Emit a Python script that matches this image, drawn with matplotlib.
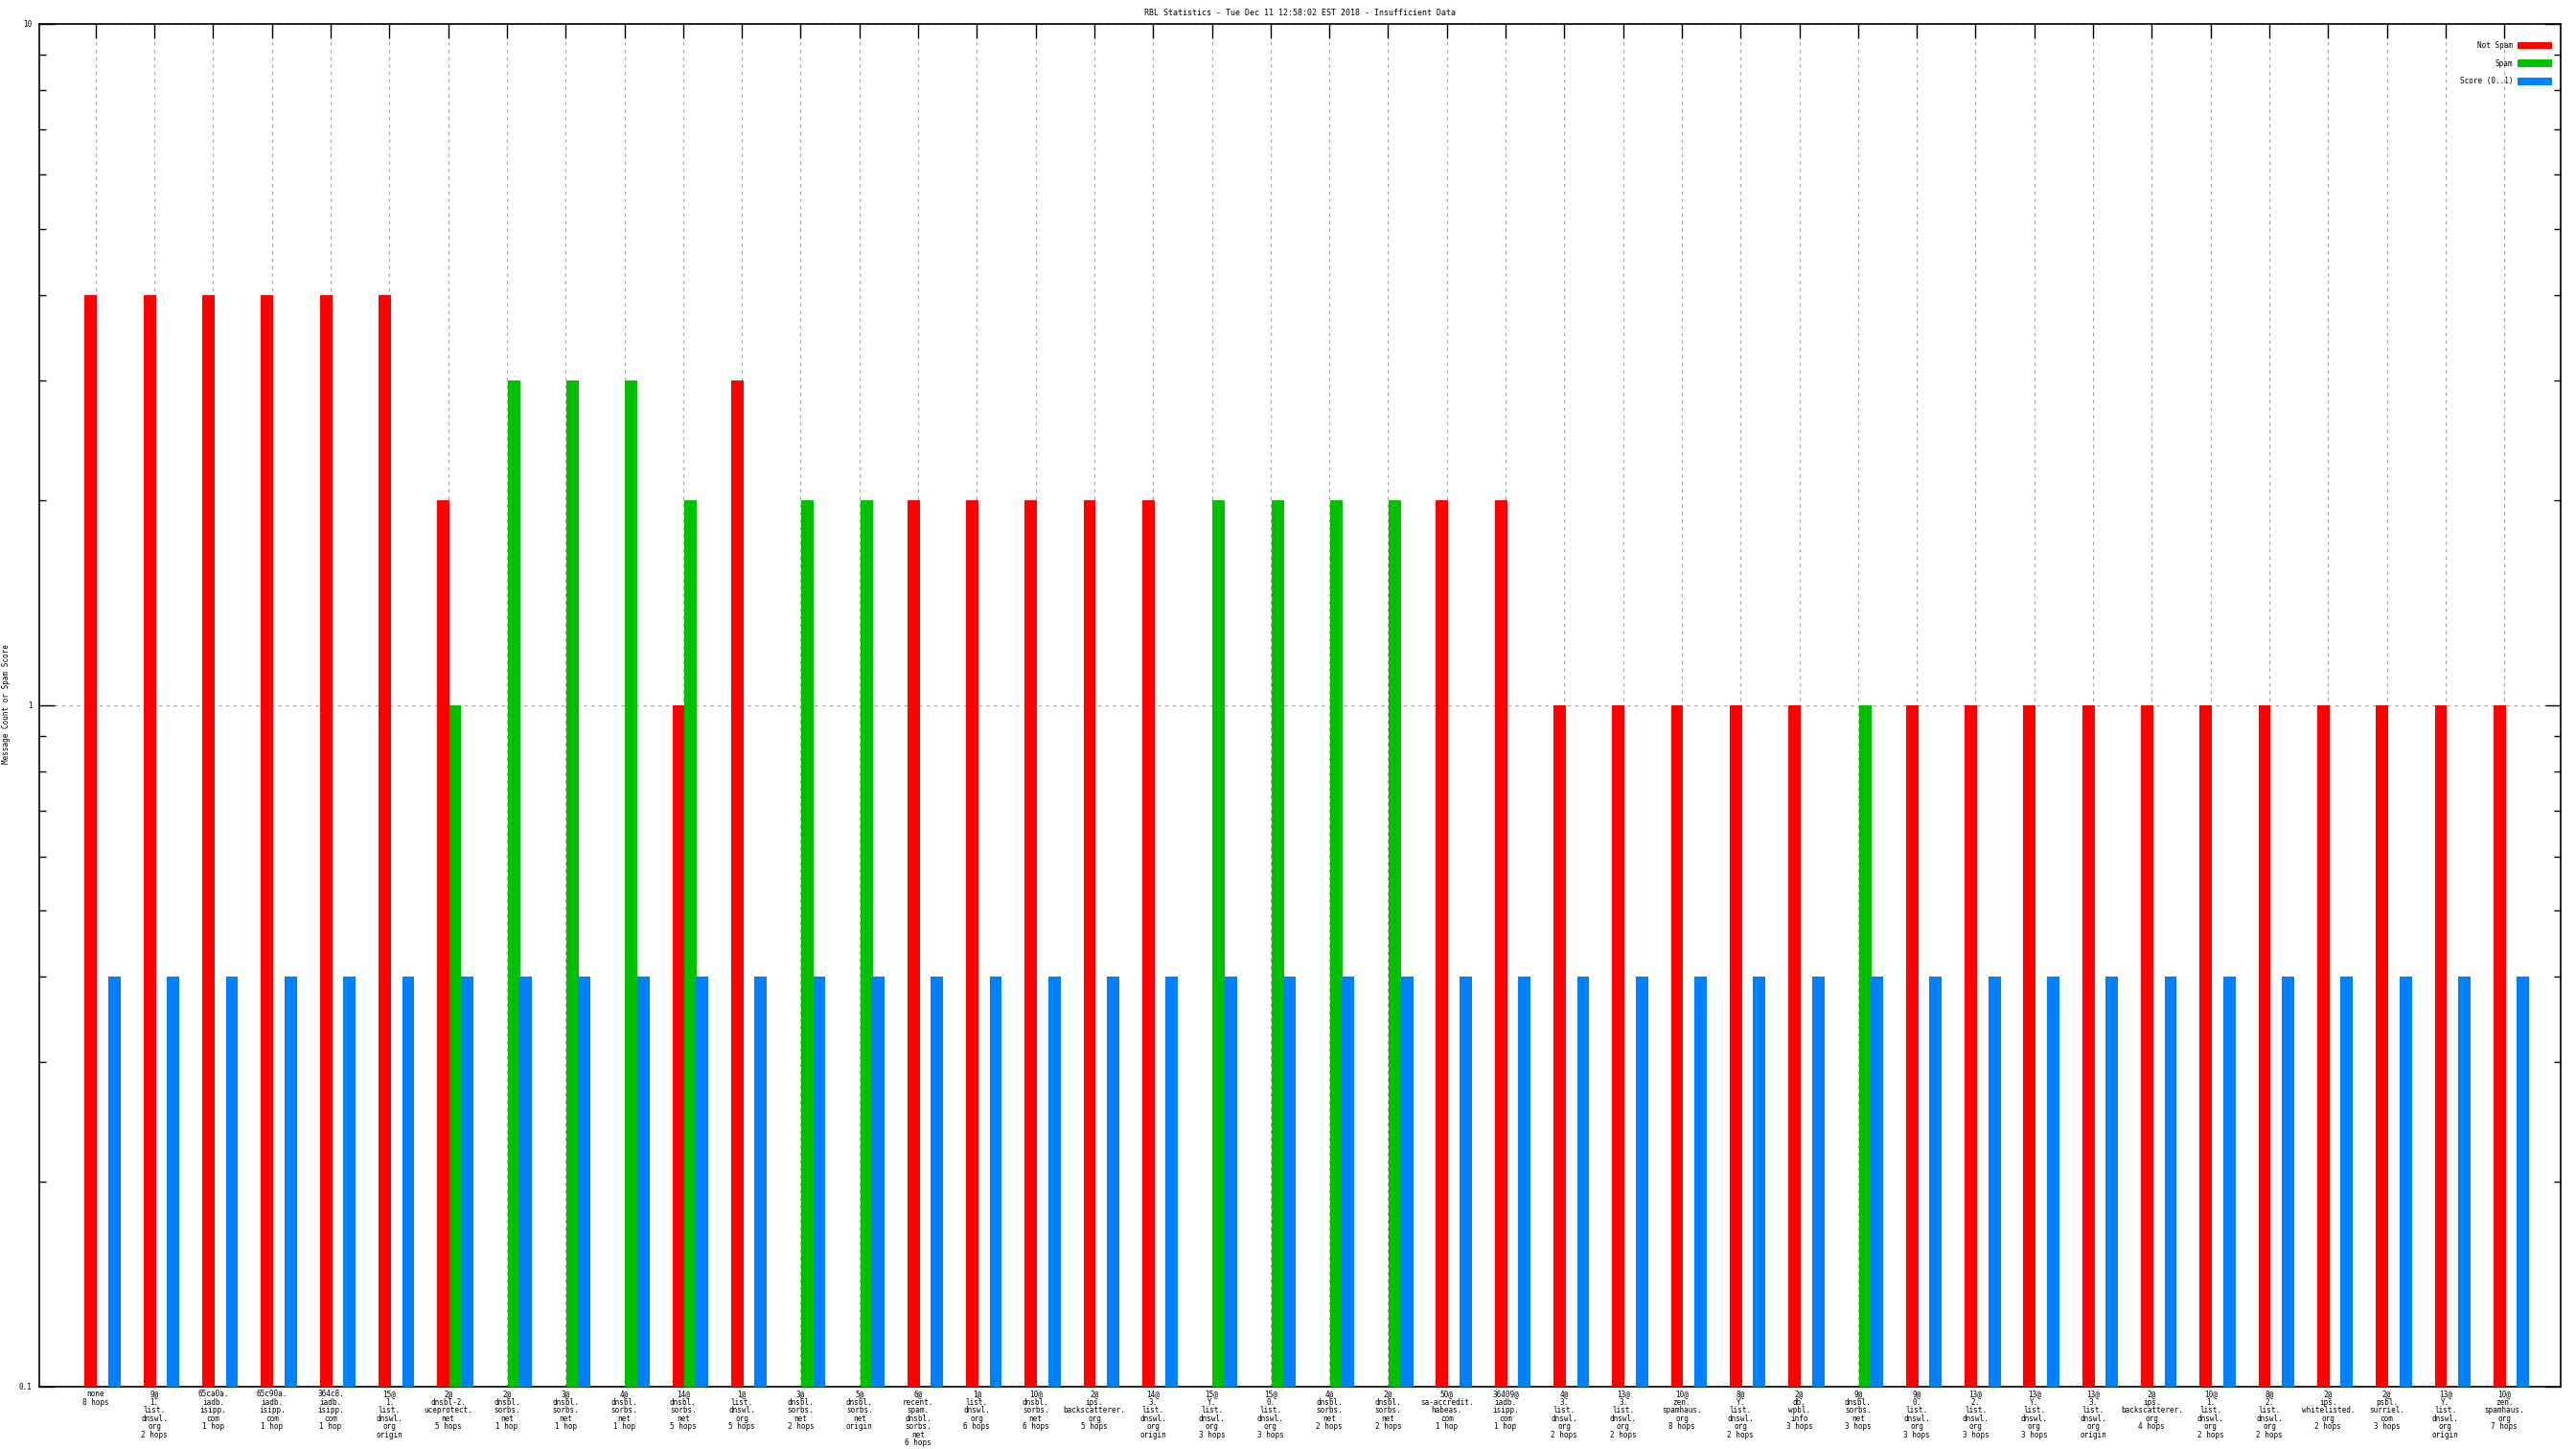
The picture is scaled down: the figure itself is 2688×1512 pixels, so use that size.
#!/usr/bin/env python3
# -*- coding: utf-8 -*-
"""
RBL statistics: clustered bars on a log scale (gnuplot-like look).
Saves out.png
"""

import numpy as np
import matplotlib
matplotlib.use("Agg")
import matplotlib.pyplot as plt
from matplotlib.ticker import FixedLocator, FixedFormatter, LogLocator, NullFormatter

TITLE = "RBL Statistics - Tue Dec 11 12:58:02 EST 2018 - Insufficient Data"
Y_LABEL = "Message Count or Spam Score"

categories = [
    "none\n8 hops",
    "9@\n1.\nlist.\ndnswl.\norg\n2 hops",
    "65ca0a.\niadb.\nisipp.\ncom\n1 hop",
    "65c90a.\niadb.\nisipp.\ncom\n1 hop",
    "364c8.\niadb.\nisipp.\ncom\n1 hop",
    "15@\n1.\nlist.\ndnswl.\norg\norigin",
    "2@\ndnsbl-2.\nuceprotect.\nnet\n5 hops",
    "2@\ndnsbl.\nsorbs.\nnet\n1 hop",
    "3@\ndnsbl.\nsorbs.\nnet\n1 hop",
    "4@\ndnsbl.\nsorbs.\nnet\n1 hop",
    "14@\ndnsbl.\nsorbs.\nnet\n5 hops",
    "1@\nlist.\ndnswl.\norg\n5 hops",
    "3@\ndnsbl.\nsorbs.\nnet\n2 hops",
    "5@\ndnsbl.\nsorbs.\nnet\norigin",
    "6@\nrecent.\nspam.\ndnsbl.\nsorbs.\nnet\n6 hops",
    "1@\nlist.\ndnswl.\norg\n6 hops",
    "10@\ndnsbl.\nsorbs.\nnet\n6 hops",
    "2@\nips.\nbackscatterer.\norg\n5 hops",
    "14@\n3.\nlist.\ndnswl.\norg\norigin",
    "15@\nY.\nlist.\ndnswl.\norg\n3 hops",
    "15@\n0.\nlist.\ndnswl.\norg\n3 hops",
    "4@\ndnsbl.\nsorbs.\nnet\n2 hops",
    "2@\ndnsbl.\nsorbs.\nnet\n2 hops",
    "50@\nsa-accredit.\nhabeas.\ncom\n1 hop",
    "36409@\niadb.\nisipp.\ncom\n1 hop",
    "4@\n3.\nlist.\ndnswl.\norg\n2 hops",
    "13@\n3.\nlist.\ndnswl.\norg\n2 hops",
    "10@\nzen.\nspamhaus.\norg\n8 hops",
    "8@\nY.\nlist.\ndnswl.\norg\n2 hops",
    "2@\ndb.\nwpbl.\ninfo\n3 hops",
    "9@\ndnsbl.\nsorbs.\nnet\n3 hops",
    "9@\n0.\nlist.\ndnswl.\norg\n3 hops",
    "13@\n2.\nlist.\ndnswl.\norg\n3 hops",
    "13@\nY.\nlist.\ndnswl.\norg\n3 hops",
    "13@\n3.\nlist.\ndnswl.\norg\norigin",
    "2@\nips.\nbackscatterer.\norg\n4 hops",
    "10@\n1.\nlist.\ndnswl.\norg\n2 hops",
    "8@\n2.\nlist.\ndnswl.\norg\n2 hops",
    "2@\nips.\nwhitelisted.\norg\n2 hops",
    "2@\npsbl.\nsurriel.\ncom\n3 hops",
    "13@\nY.\nlist.\ndnswl.\norg\norigin",
    "10@\nzen.\nspamhaus.\norg\n7 hops",
]

# 0 = no bar
not_spam = [4, 4, 4, 4, 4, 4, 2, 0, 0, 0, 1, 3, 0, 0, 2, 2, 2, 2, 2, 0, 0,
            0, 0, 2, 2, 1, 1, 1, 1, 1, 0, 1, 1, 1, 1, 1, 1, 1, 1, 1, 1, 1]
spam = [0, 0, 0, 0, 0, 0, 1, 3, 3, 3, 2, 0, 2, 2, 0, 0, 0, 0, 0, 2, 2,
        2, 2, 0, 0, 0, 0, 0, 0, 0, 1, 0, 0, 0, 0, 0, 0, 0, 0, 0, 0, 0]
score = [0.4] * 42

y_ticks = [0.1, 1, 10]
y_tick_labels = ["0.1", "1", "10"]

FONT = "DejaVu Sans Mono"
FS = 5.5


def masked(vals):
    a = np.array(vals, dtype=float)
    a[a <= 0] = np.nan
    return a


def main():
    plt.rcParams["font.family"] = FONT
    plt.rcParams["font.size"] = FS

    fig = plt.figure(figsize=(26.88, 15.12), dpi=100)
    ax = fig.add_axes([0.01525, 0.0430, 0.9788, 0.9407])

    x = np.arange(len(categories))
    w = 0.21

    ax.bar(x - 0.08, masked(not_spam), w, color="#ff0000", label="Not Spam", zorder=3)
    ax.bar(x + 0.12, masked(spam), w, color="#00c000", label="Spam", zorder=3)
    ax.bar(x + 0.32, masked(score), w, color="#0080ff", label="Score (0..1)", zorder=3)

    ax.set_yscale("log")
    ax.set_ylim(0.1, 10)
    ax.set_xlim(-0.96, len(categories) - 0.04)

    ax.yaxis.set_major_locator(FixedLocator(y_ticks))
    ax.yaxis.set_major_formatter(FixedFormatter(y_tick_labels))
    ax.yaxis.set_minor_locator(LogLocator(base=10, subs=np.arange(2, 10)))
    ax.yaxis.set_minor_formatter(NullFormatter())

    ax.set_xticks(x)
    ax.set_xticklabels(categories, linespacing=0.92, fontsize=FS)

    ax.tick_params(axis="x", which="major", direction="in", length=11,
                   width=1, top=True, bottom=False, labelsize=FS, pad=2.5)
    ax.tick_params(axis="y", which="major", direction="in", length=11.5,
                   width=1, right=True, labelsize=FS, pad=5.5)
    ax.tick_params(axis="y", which="minor", direction="in", length=5.2,
                   width=1, right=True)

    # grid: vertical at every group, horizontal at major y ticks
    ax.grid(True, axis="x", color="#a0a0a0", linestyle=(0, (3, 4)), lw=0.8, zorder=0)
    ax.grid(True, axis="y", which="major", color="#a0a0a0",
            linestyle=(0, (3, 4)), lw=0.8, zorder=0)

    for sp in ax.spines.values():
        sp.set_linewidth(1.2)

    ax.set_title(TITLE, fontsize=6, pad=6)
    fig.text(7 / 2688, 1 - 735 / 1512, Y_LABEL, rotation=90, fontsize=FS,
             ha="center", va="center")

    ax.legend(loc="upper right", bbox_to_anchor=(0.9966, 0.987),
              frameon=False, markerfirst=False, fontsize=FS,
              handlelength=4.7, handleheight=1.18, labelspacing=1.25,
              handletextpad=0.65, borderaxespad=0, borderpad=0)

    fig.savefig("out.png", dpi=100)
    plt.close(fig)


if __name__ == "__main__":
    main()
